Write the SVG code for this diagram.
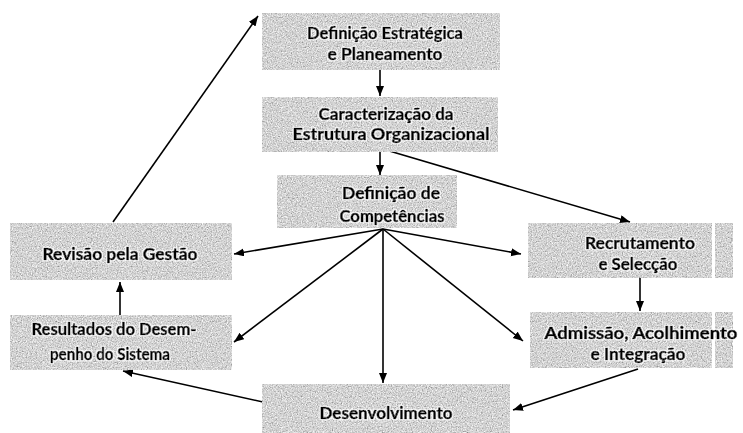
<svg xmlns="http://www.w3.org/2000/svg" width="743" height="433" viewBox="0 0 743 433">
<style>
.box{fill:#aaa;filter:url(#grain)}
.t{font-family:Lato,"Liberation Sans",sans-serif;font-weight:700;font-size:17px;fill:#000;stroke:#000;stroke-width:0.7;text-anchor:middle;dominant-baseline:central;filter:url(#halo)}
.c{stroke:#000;stroke-width:1.6;fill:none;marker-end:url(#ah)}
.gap{fill:#fff}
</style>
<defs>
<filter id="grain" x="0" y="0" width="100%" height="100%">
<feTurbulence type="fractalNoise" baseFrequency="0.8" numOctaves="2" seed="4" result="n"/>
<feColorMatrix in="n" type="matrix" values="0.75 0.6 0 0 -0.03  0.75 0.6 0 0 -0.03  0.75 0.6 0 0 -0.03  0 0 0 0 1" result="g"/>
<feComposite in="g" in2="SourceGraphic" operator="in"/>
</filter>
<filter id="halo" x="-5%" y="-20%" width="110%" height="140%">
<feMorphology in="SourceAlpha" operator="dilate" radius="1.3" result="d"/>
<feFlood flood-color="#fff" flood-opacity="0.85"/>
<feComposite in2="d" operator="in" result="w"/>
<feMerge><feMergeNode in="w"/><feMergeNode in="SourceGraphic"/></feMerge>
</filter>
<marker id="ah" markerUnits="userSpaceOnUse" markerWidth="12" markerHeight="10" refX="10" refY="4" orient="auto">
<path d="M0,0 L10,4 L0,8 Z" fill="#000"/>
</marker>
</defs>
<rect width="743" height="433" fill="#fff"/>
<g id="connectors">
<line class="c" x1="380" y1="70" x2="380" y2="96"/>
<line class="c" x1="380" y1="152" x2="380" y2="175"/>
<line class="c" x1="386" y1="150" x2="630" y2="222"/>
<line class="c" x1="383" y1="229" x2="234" y2="254"/>
<line class="c" x1="383" y1="229" x2="521" y2="254"/>
<line class="c" x1="383" y1="229" x2="234" y2="342"/>
<line class="c" x1="383" y1="229" x2="523" y2="341"/>
<line class="c" x1="383" y1="229" x2="383" y2="383"/>
<line class="c" x1="640" y1="278" x2="640" y2="311"/>
<line class="c" x1="638" y1="369" x2="513" y2="410"/>
<line class="c" x1="263" y1="402" x2="123" y2="371"/>
<line class="c" x1="120" y1="315" x2="120" y2="282"/>
<line class="c" x1="113" y1="222" x2="258" y2="16"/>
</g>
<g id="definicao-estrategica">
<rect class="box" x="262" y="13" width="238" height="57"/>
<text class="t" x="385" y="32" textLength="156" lengthAdjust="spacingAndGlyphs">Definição Estratégica</text>
<text class="t" x="385" y="53" textLength="115" lengthAdjust="spacingAndGlyphs">e Planeamento</text>
</g>
<g id="caracterizacao">
<rect class="box" x="262" y="97" width="236" height="55"/>
<text class="t" x="386" y="113" textLength="135" lengthAdjust="spacingAndGlyphs">Caracterização da</text>
<text class="t" x="391" y="133" textLength="197" lengthAdjust="spacingAndGlyphs">Estrutura Organizacional</text>
</g>
<g id="competencias">
<rect class="box" x="277" y="175" width="180" height="53"/>
<text class="t" x="391" y="192" textLength="98" lengthAdjust="spacingAndGlyphs">Definição de</text>
<text class="t" x="392" y="215" textLength="105" lengthAdjust="spacingAndGlyphs">Competências</text>
</g>
<g id="revisao">
<rect class="box" x="10" y="223" width="222" height="57"/>
<text class="t" x="120" y="253" textLength="155" lengthAdjust="spacingAndGlyphs">Revisão pela Gestão</text>
</g>
<g id="resultados">
<rect class="box" x="10" y="315" width="222" height="55"/>
<text class="t" x="114" y="328" textLength="165" lengthAdjust="spacingAndGlyphs">Resultados do Desem-</text>
<text class="t" x="110" y="353" textLength="120" lengthAdjust="spacingAndGlyphs">penho do Sistema</text>
</g>
<g id="recrutamento">
<rect class="box" x="528" y="223" width="205" height="55"/>
<rect class="gap" x="712" y="223" width="3" height="55"/>
<text class="t" x="640" y="242" textLength="110" lengthAdjust="spacingAndGlyphs">Recrutamento</text>
<text class="t" x="638" y="263" textLength="79" lengthAdjust="spacingAndGlyphs">e Selecção</text>
</g>
<g id="admissao">
<rect class="box" x="530" y="312" width="203" height="56"/>
<rect class="gap" x="712" y="312" width="3" height="56"/>
<text class="t" x="641" y="332" textLength="193" lengthAdjust="spacingAndGlyphs">Admissão, Acolhimento</text>
<text class="t" x="638" y="353" textLength="95" lengthAdjust="spacingAndGlyphs">e Integração</text>
</g>
<g id="desenvolvimento">
<rect class="box" x="262" y="384" width="248" height="49"/>
<text class="t" x="386" y="412" textLength="133" lengthAdjust="spacingAndGlyphs">Desenvolvimento</text>
</g>
</svg>
